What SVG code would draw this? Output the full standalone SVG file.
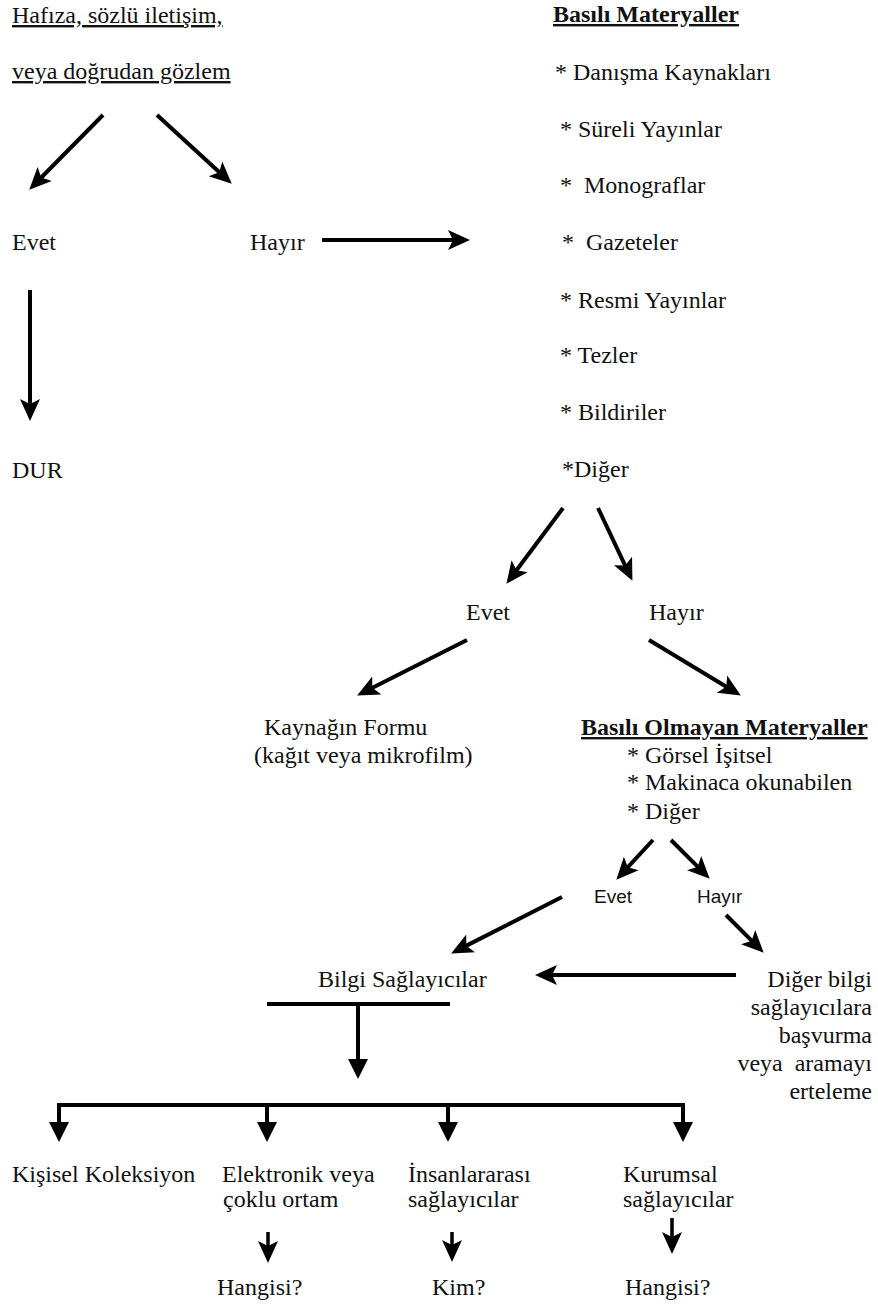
<svg xmlns="http://www.w3.org/2000/svg" width="878" height="1305" viewBox="0 0 878 1305">
<style>
text{font-family:'Liberation Serif','Times New Roman',serif;font-size:24px;fill:#111;white-space:pre}
.b{font-weight:bold}
.u{text-decoration:underline}
.s{font-family:'Liberation Sans',Arial,sans-serif;font-size:19px}
.r{text-anchor:end}
.c line{stroke:#000;stroke-width:4;fill:none}
.c .thin{stroke-width:3.5}
</style>
<defs>
<marker id="ah" markerUnits="userSpaceOnUse" markerWidth="22" markerHeight="22" viewBox="0 0 22 22" refX="7" refY="11" orient="auto"><path d="M0,1 L22,11 L0,21 L5,11 z" fill="#000"/></marker>
<marker id="tri" markerUnits="userSpaceOnUse" markerWidth="20" markerHeight="20" viewBox="0 0 20 20" refX="2" refY="10" orient="auto"><path d="M0,0 L20,10 L0,20 z" fill="#000"/></marker>
</defs>
<rect width="878" height="1305" fill="#fff"/>
<g id="connectors" class="c">
<line x1="103" y1="115" x2="39.8" y2="179" marker-end="url(#ah)"/>
<line x1="157" y1="115" x2="220.7" y2="173.5" marker-end="url(#ah)"/>
<line x1="322" y1="240" x2="455" y2="240" marker-end="url(#ah)"/>
<line x1="30" y1="290" x2="30" y2="406" marker-end="url(#ah)"/>
<line x1="563" y1="508" x2="515.4" y2="571.8" marker-end="url(#ah)"/>
<line x1="598" y1="508" x2="626" y2="567.3" marker-end="url(#ah)"/>
<line x1="467" y1="640" x2="370.5" y2="688.7" marker-end="url(#ah)"/>
<line x1="649" y1="640" x2="728" y2="687.8" marker-end="url(#ah)"/>
<line x1="653" y1="840" x2="626.5" y2="868.7" marker-end="url(#ah)"/>
<line x1="671" y1="840" x2="699.1" y2="868.1" marker-end="url(#ah)"/>
<line x1="562" y1="897" x2="464.5" y2="946.6" marker-end="url(#ah)"/>
<line x1="726" y1="915" x2="753.1" y2="942.1" marker-end="url(#ah)"/>
<line x1="736" y1="975" x2="550" y2="975" marker-end="url(#ah)"/>
<line x1="267" y1="1004" x2="450" y2="1004"/>
<line x1="358" y1="1004" x2="358" y2="1061" marker-end="url(#tri)"/>
<line x1="57" y1="1105" x2="685" y2="1105"/>
<line x1="59" y1="1105" x2="59" y2="1124" marker-end="url(#tri)"/>
<line x1="267" y1="1105" x2="267" y2="1124" marker-end="url(#tri)"/>
<line x1="448" y1="1105" x2="448" y2="1124" marker-end="url(#tri)"/>
<line x1="683" y1="1105" x2="683" y2="1124" marker-end="url(#tri)"/>
<line class="thin" x1="268" y1="1232" x2="268" y2="1248" marker-end="url(#ah)"/>
<line class="thin" x1="452" y1="1232" x2="452" y2="1247" marker-end="url(#ah)"/>
<line class="thin" x1="672" y1="1218" x2="672" y2="1239" marker-end="url(#ah)"/>
</g>
<g id="n-start"><text class="u" x="12" y="23">Hafıza, sözlü iletişim,</text><text class="u" x="12" y="79">veya doğrudan gözlem</text></g>
<g id="n-evet1"><text x="12" y="250">Evet</text></g>
<g id="n-hayir1"><text x="250" y="250">Hayır</text></g>
<g id="n-dur"><text x="12" y="478">DUR</text></g>
<g id="n-basili">
<text class="b u" x="553" y="22">Basılı Materyaller</text>
<text x="555" y="80">* Danışma Kaynakları</text>
<text x="560" y="137">* Süreli Yayınlar</text>
<text x="560" y="193">*  Monograflar</text>
<text x="562" y="250">*  Gazeteler</text>
<text x="560" y="308">* Resmi Yayınlar</text>
<text x="560" y="363">* Tezler</text>
<text x="560" y="420">* Bildiriler</text>
<text x="562" y="477">*Diğer</text>
</g>
<g id="n-evet2"><text x="466" y="620">Evet</text></g>
<g id="n-hayir2"><text x="649" y="620">Hayır</text></g>
<g id="n-kaynak"><text x="264" y="735">Kaynağın Formu</text><text x="254" y="763">(kağıt veya mikrofilm)</text></g>
<g id="n-basiliolmayan">
<text class="b u" x="581" y="735">Basılı Olmayan Materyaller</text>
<text x="627" y="763">* Görsel İşitsel</text>
<text x="627" y="790">* Makinaca okunabilen</text>
<text x="627" y="819">* Diğer</text>
</g>
<g id="n-evet3"><text class="s" x="594" y="903">Evet</text></g>
<g id="n-hayir3"><text class="s" x="697" y="903">Hayır</text></g>
<g id="n-bilgi"><text x="318" y="987">Bilgi Sağlayıcılar</text></g>
<g id="n-diger">
<text class="r" x="872" y="987">Diğer bilgi</text>
<text class="r" x="872" y="1015">sağlayıcılara</text>
<text class="r" x="872" y="1043">başvurma</text>
<text class="r" x="872" y="1071">veya  aramayı</text>
<text class="r" x="872" y="1099">erteleme</text>
</g>
<g id="n-kisisel"><text x="12" y="1182">Kişisel Koleksiyon</text></g>
<g id="n-elektronik"><text x="222" y="1182">Elektronik veya</text><text x="223" y="1207">çoklu ortam</text></g>
<g id="n-insan"><text x="408" y="1182">İnsanlararası</text><text x="408" y="1207">sağlayıcılar</text></g>
<g id="n-kurum"><text x="623" y="1182">Kurumsal</text><text x="623" y="1207">sağlayıcılar</text></g>
<g id="n-hangisi1"><text x="217" y="1295">Hangisi?</text></g>
<g id="n-kim"><text x="432" y="1295">Kim?</text></g>
<g id="n-hangisi2"><text x="625" y="1295">Hangisi?</text></g>
</svg>
